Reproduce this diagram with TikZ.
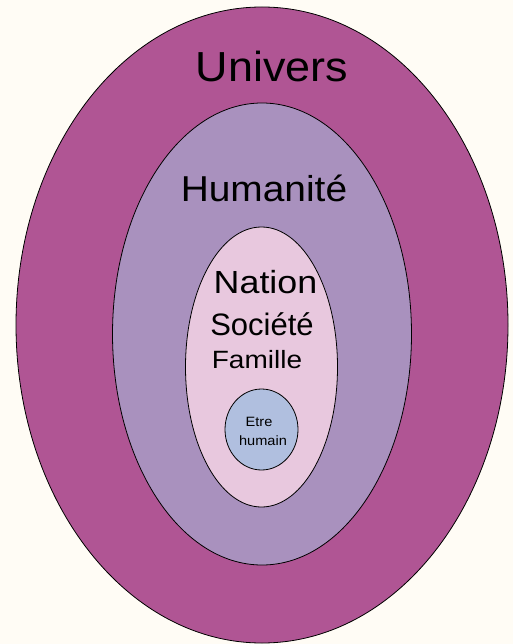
\documentclass[tikz,border=0pt]{standalone}
\usepackage{fontspec}
\setmainfont{Liberation Sans}
\usetikzlibrary{shapes.geometric}
\definecolor{bgc}{RGB}{255,252,245}
\definecolor{univc}{RGB}{176,85,148}
\definecolor{humc}{RGB}{169,145,190}
\definecolor{natc}{RGB}{232,200,222}
\definecolor{etrec}{RGB}{176,191,223}
\tikzset{
  ring/.style={ellipse, draw=black, line width=0.8pt, inner sep=0pt},
  lbl/.style={anchor=base, inner sep=0pt, text=black},
}
\begin{document}
\begin{tikzpicture}[x=1pt,y=-1pt]
\fill[bgc] (0,0) rectangle (513,644);
\useasboundingbox (0,0) rectangle (513,644);
\node[ring, fill=univc, minimum width=492pt, minimum height=636pt] (univers) at (262,325) {};
\node[ring, fill=humc, minimum width=299pt, minimum height=462pt] (humanite) at (262,334) {};
\node[ring, fill=natc, minimum width=152pt, minimum height=280pt] (nation) at (261.5,367) {};
\node[ring, fill=etrec, minimum width=73pt, minimum height=81pt] (etre) at (261.5,429.5) {};
\node[lbl, xscale=1.07, transform shape] (tunivers) at (272,82) {\fontsize{42}{50}\selectfont Univers};
\node[lbl, xscale=1.08, transform shape] (thumanite) at (264,202) {\fontsize{36}{43}\selectfont Humanité};
\node[lbl, xscale=1.12, transform shape] (tnation) at (265.5,293) {\fontsize{32}{38}\selectfont Nation};
\node[lbl] (tsociete) at (262,335) {\fontsize{31}{37}\selectfont Société};
\node[lbl, xscale=1.12, transform shape] (tfamille) at (257,368) {\fontsize{25}{30}\selectfont Famille};
\node[lbl, xscale=1.08, transform shape] (tetre) at (259,426.5) {\fontsize{13.5}{16}\selectfont Etre};
\node[lbl, xscale=1.08, transform shape] (thumain) at (263,445) {\fontsize{13.5}{16}\selectfont humain};
\end{tikzpicture}
\end{document}
